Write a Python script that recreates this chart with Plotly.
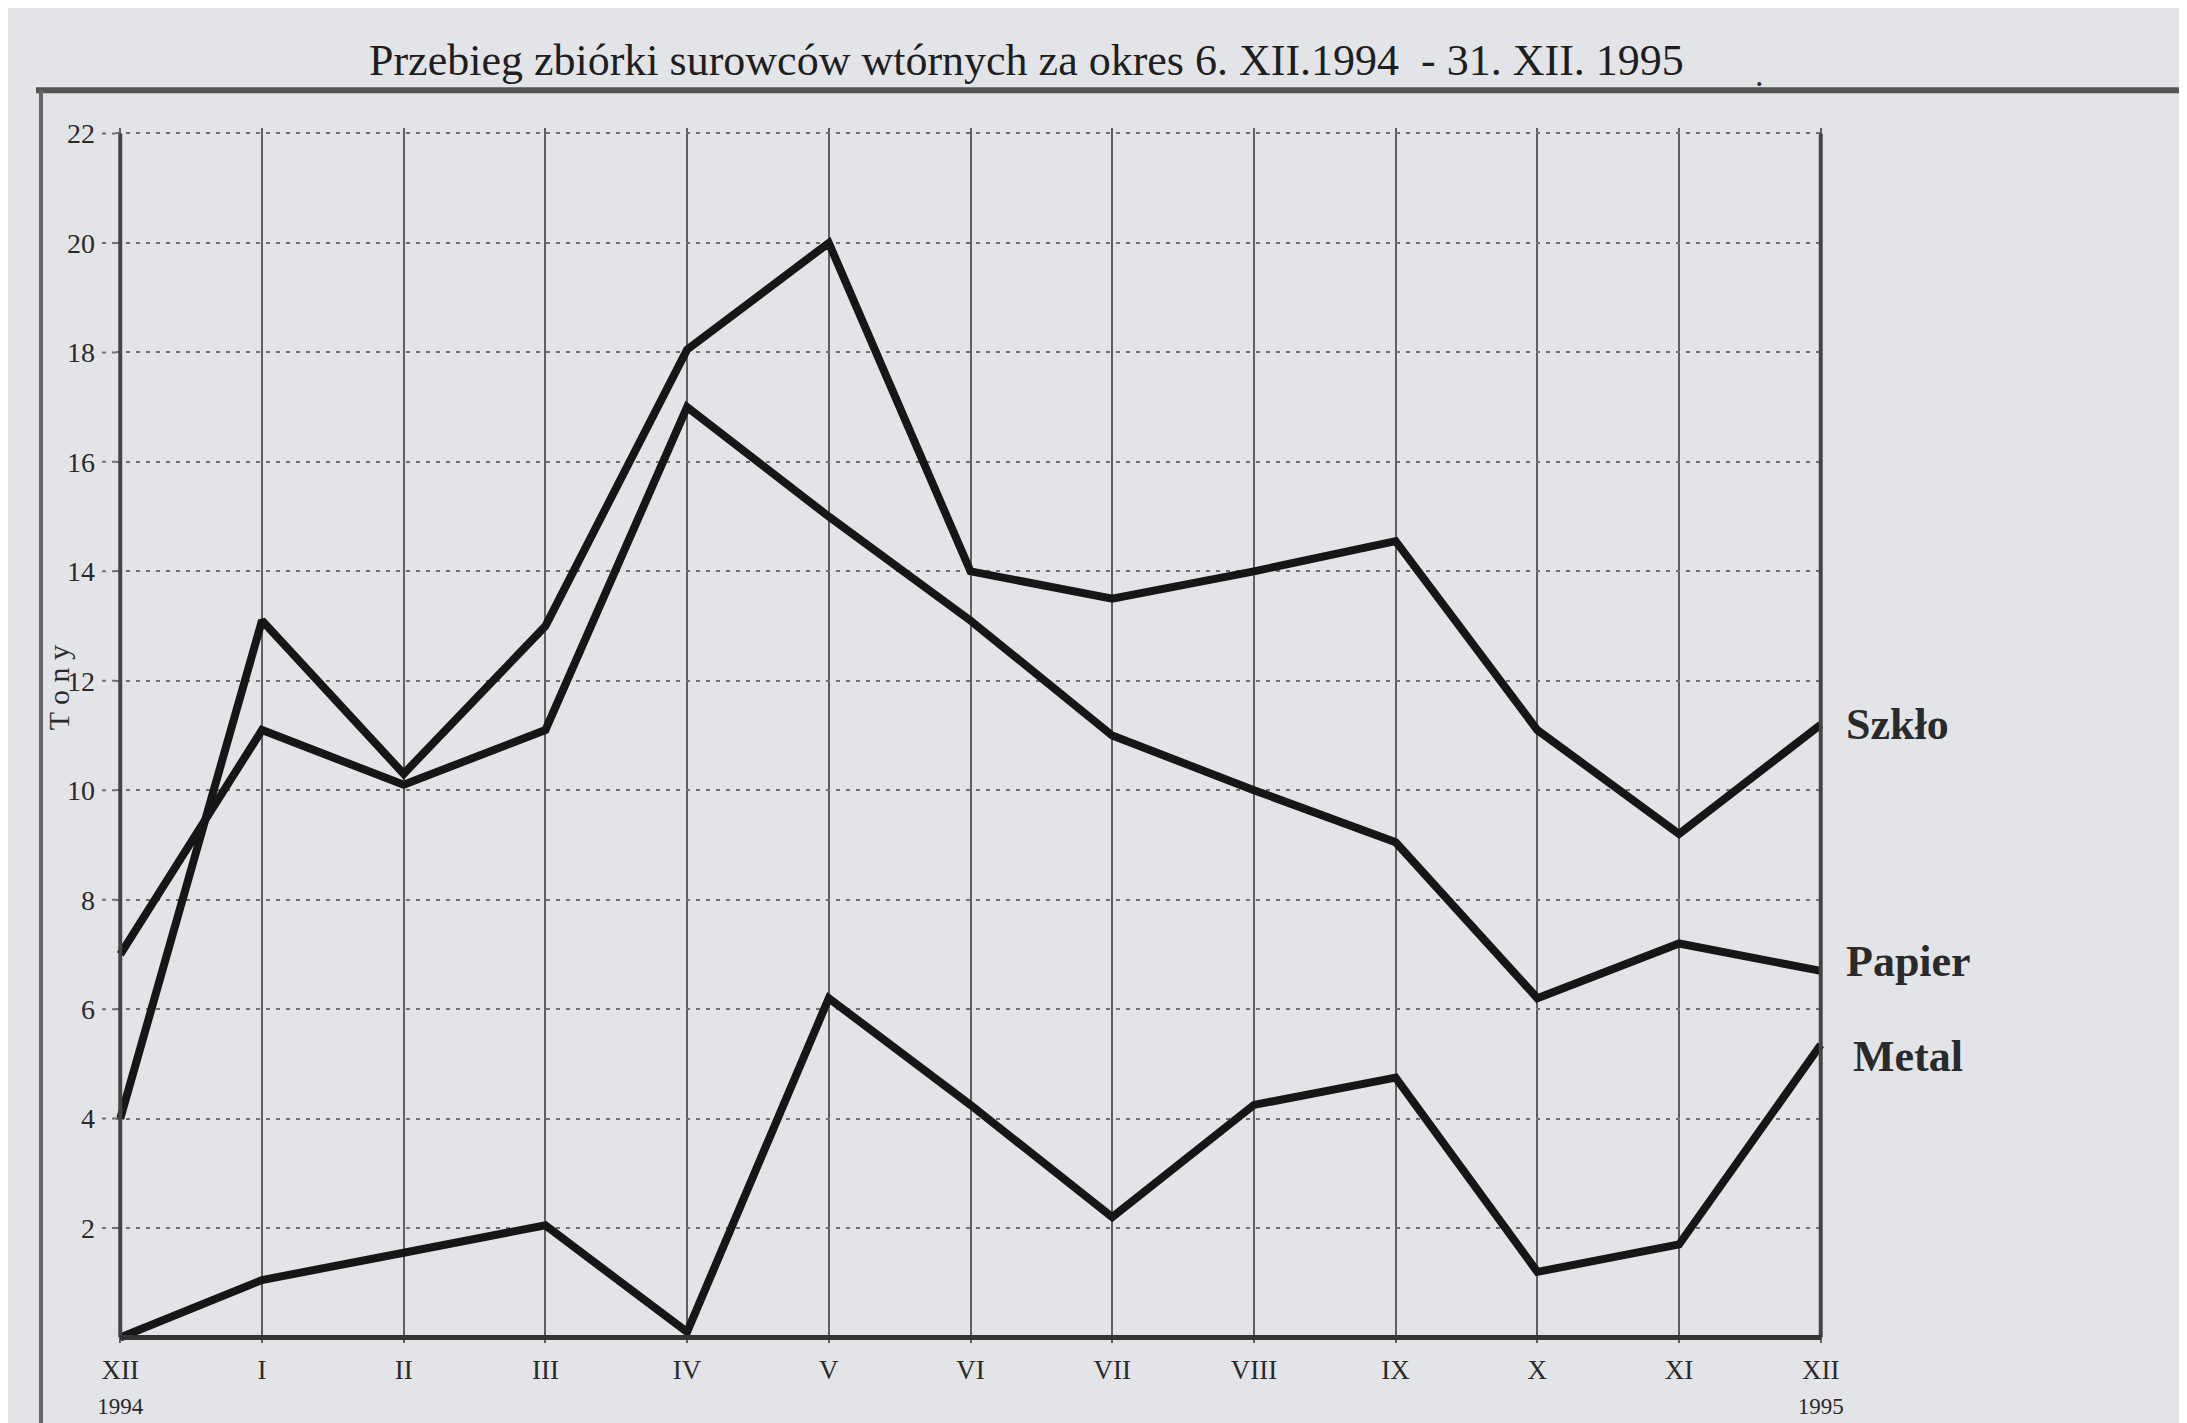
import plotly.graph_objects as go

months = ["XII", "I", "II", "III", "IV", "V", "VI", "VII", "VIII", "IX", "X", "XI", "XII"]
years = {0: "1994", 12: "1995"}
szklo = [4.0, 13.1, 10.3, 13.0, 18.05, 20.0, 14.0, 13.5, 14.0, 14.55, 11.1, 9.2, 11.2]
papier = [7.0, 11.1, 10.1, 11.1, 17.0, 15.0, 13.1, 11.0, 10.0, 9.05, 6.2, 7.2, 6.7]
metal = [0.0, 1.05, 1.55, 2.05, 0.1, 6.2, 4.25, 2.2, 4.25, 4.75, 1.2, 1.7, 5.35]
series = [("Szkło", szklo, 0), ("Papier", papier, 9), ("Metal", metal, -12)]
yticks = [2, 4, 6, 8, 10, 12, 14, 16, 18, 20, 22]
title = "Przebieg zbiórki surowców wtórnych za okres 6. XII.1994  - 31. XII. 1995"

W, H = 2187, 1423
ML, MR, MT, MB = 108, 370, 120, 82
PW, PH = W - ML - MR, H - MT - MB


def xp(px):
    return (px - ML) / PW


def yp(py):
    return (H - MB - py) / PH


FONT = "Liberation Serif"
INK = "#161616"
BG = "#e3e4e8"

x = list(range(len(months)))
fig = go.Figure()
for name, vals, _ in series:
    fig.add_trace(go.Scatter(x=x, y=vals, mode="lines", name=name,
                             line=dict(color=INK, width=8), showlegend=False))

ticktext = []
for i, m in enumerate(months):
    if i in years:
        ticktext.append(f"{m}<br><span style='font-size:23px'>{years[i]}</span>")
    else:
        ticktext.append(m)

fig.update_layout(
    width=W, height=H,
    margin=dict(l=ML, r=MR, t=MT, b=MB),
    paper_bgcolor=BG, plot_bgcolor=BG,
    xaxis=dict(range=[-0.03, 12.03], tickmode="array", tickvals=x, ticktext=ticktext,
               showgrid=True, gridcolor="#5f5f5f", gridwidth=2, zeroline=False,
               showline=False, ticks="", ticklabelstandoff=8,
               tickfont=dict(family=FONT, size=27, color="#2a2a2a")),
    yaxis=dict(range=[-0.1, 22.1], tickmode="array", tickvals=yticks,
               ticktext=[str(v) for v in yticks],
               showgrid=True, gridcolor="#707070", gridwidth=2, griddash="4px,6px",
               zeroline=False, showline=False, ticks="", ticklabelstandoff=20,
               tickfont=dict(family=FONT, size=28, color="#2a2a2a")),
)

shapes = [
    # frame of the page
    dict(type="line", xref="paper", yref="paper", x0=xp(28), x1=xp(W), y0=yp(82), y1=yp(82),
         line=dict(color="#555", width=6)),
    dict(type="line", xref="paper", yref="paper", x0=xp(33), x1=xp(33), y0=yp(82), y1=yp(H),
         line=dict(color="#666", width=4)),
    # plot border lines
    dict(type="line", xref="x", yref="y", x0=0, x1=0, y0=0, y1=22, line=dict(color="#444", width=4)),
    dict(type="line", xref="x", yref="y", x0=12, x1=12, y0=0, y1=22, line=dict(color="#444", width=4)),
    dict(type="line", xref="x", yref="y", x0=0, x1=12, y0=0, y1=0, line=dict(color="#333", width=5)),
]
# dotted grid stubs reaching left of the axis towards the labels
for v in yticks:
    shapes.append(dict(type="line", xref="paper", yref="y", x0=xp(94), x1=xp(112), y0=v, y1=v,
                       line=dict(color="#707070", width=2, dash="4px,6px")))
fig.update_layout(shapes=shapes)

ann = [
    dict(text=title, xref="paper", yref="paper", x=xp(1018), y=yp(52), showarrow=False,
         xanchor="center", yanchor="middle", font=dict(family=FONT, size=44, color="#1e1e1e")),
    dict(text=".", xref="paper", yref="paper", x=xp(1758), y=yp(46), showarrow=False,
         font=dict(family=FONT, size=34, color="#333")),
    dict(text="T o n y", xref="paper", yref="paper", x=xp(50), y=yp(683), showarrow=False,
         textangle=-90, xanchor="center", yanchor="middle",
         font=dict(family=FONT, size=30, color="#2a2a2a")),
]
for name, vals, shift in series:
    ann.append(dict(text=f"<b>{name}</b>", xref="paper", yref="y", x=xp(1836 if name != "Metal" else 1843),
                    y=vals[-1], yshift=shift, showarrow=False, xanchor="left", yanchor="middle",
                    font=dict(family=FONT, size=44, color="#2a2a2a")))
fig.update_layout(annotations=ann)

fig.write_html("out.html")
